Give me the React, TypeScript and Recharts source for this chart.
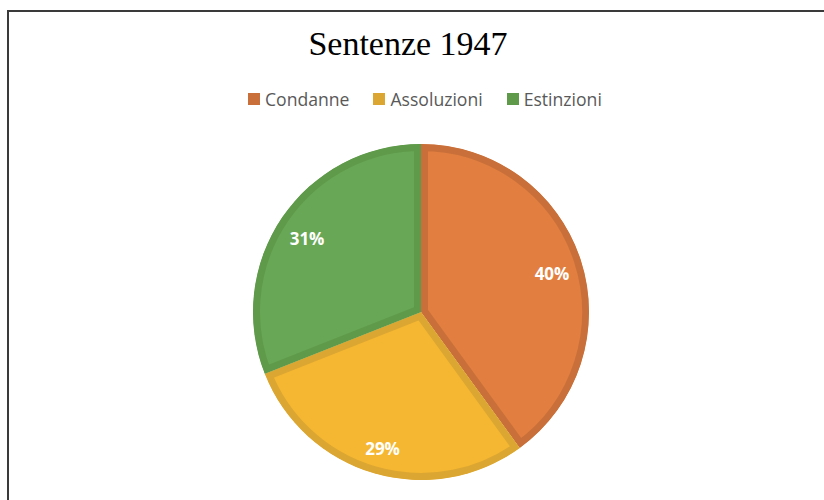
import { PieChart, Pie, Cell, Sector, Legend } from 'recharts';

const categories = ['Condanne', 'Assoluzioni', 'Estinzioni'];
const shares = [40, 29, 31];

const FILLS = ['#E27F40', '#F5B731', '#68A755'];
const EDGES = ['#C9703A', '#DBA632', '#5F9A4A'];

const data = categories.map((name, i) => ({ name, value: shares[i] }));

const RADIAN = Math.PI / 180;

// slice with an inset border: a wide stroke clipped to the slice itself
function renderSlice(props: any, index: number) {
  const geom = {
    cx: props.cx,
    cy: props.cy,
    innerRadius: props.innerRadius,
    outerRadius: props.outerRadius,
    startAngle: props.startAngle,
    endAngle: props.endAngle,
  };
  const id = `slice-clip-${index}`;
  return (
    <g>
      <defs>
        <clipPath id={id}>
          <Sector {...geom} />
        </clipPath>
      </defs>
      <Sector
        {...geom}
        fill={props.fill}
        stroke={EDGES[index]}
        strokeWidth={14}
        clipPath={`url(#${id})`}
      />
    </g>
  );
}

function renderLabel({ cx, cy, midAngle, outerRadius, percent }: any) {
  const r = outerRadius * 0.82;
  const x = cx + r * Math.cos(-midAngle * RADIAN);
  const y = cy + r * Math.sin(-midAngle * RADIAN) + 4;
  return (
    <text
      x={x}
      y={y}
      fill="#fff"
      textAnchor="middle"
      dominantBaseline="central"
      fontFamily="'Open Sans', sans-serif"
      fontWeight={700}
      fontSize={17}
    >
      {`${Math.round(percent * 100)}%`}
    </text>
  );
}

function LegendContent() {
  return (
    <div style={{ display: 'flex', alignItems: 'center' }}>
      {categories.map((name, i) => (
        <div
          key={name}
          style={{ display: 'flex', alignItems: 'center', marginRight: i < categories.length - 1 ? 24 : 0 }}
        >
          <span style={{ width: 12, height: 12, background: EDGES[i], display: 'inline-block', marginRight: 5 }} />
          <span style={{ fontFamily: "'Open Sans', sans-serif", fontSize: 17.6, color: '#595959', lineHeight: '20px' }}>
            {name}
          </span>
        </div>
      ))}
    </div>
  );
}

export default function App() {
  return (
    <div
      style={{
        position: 'absolute',
        left: 0,
        top: 0,
        width: 824,
        height: 500,
        overflow: 'hidden',
        background: '#fff',
      }}
    >
      <div
        style={{
          position: 'absolute',
          left: 7,
          top: 10,
          width: 900,
          height: 600,
          borderLeft: '2px solid #3a3a3a',
          borderTop: '2px solid #3a3a3a',
        }}
      />
      <div
        style={{
          position: 'absolute',
          left: 0,
          top: 24,
          width: 816,
          textAlign: 'center',
          fontFamily: "'Liberation Serif', 'Times New Roman', serif",
          fontSize: 34,
          lineHeight: '40px',
          color: '#000',
        }}
      >
        Sentenze 1947
      </div>
      <div style={{ position: 'absolute', left: 0, top: 0 }}>
        <PieChart width={824} height={500} margin={{ top: 0, right: 0, bottom: 0, left: 0 }}>
          <Legend
            content={<LegendContent />}
            wrapperStyle={{ position: 'absolute', top: 89, left: 248, width: 'auto' }}
          />
          <Pie
            data={data}
            dataKey="value"
            nameKey="name"
            cx={421}
            cy={312}
            outerRadius={168}
            startAngle={90}
            endAngle={-270}
            shape={renderSlice}
            label={renderLabel}
            labelLine={false}
            isAnimationActive={false}
          >
            {data.map((d, i) => (
              <Cell key={d.name} fill={FILLS[i]} />
            ))}
          </Pie>
        </PieChart>
      </div>
    </div>
  );
}
